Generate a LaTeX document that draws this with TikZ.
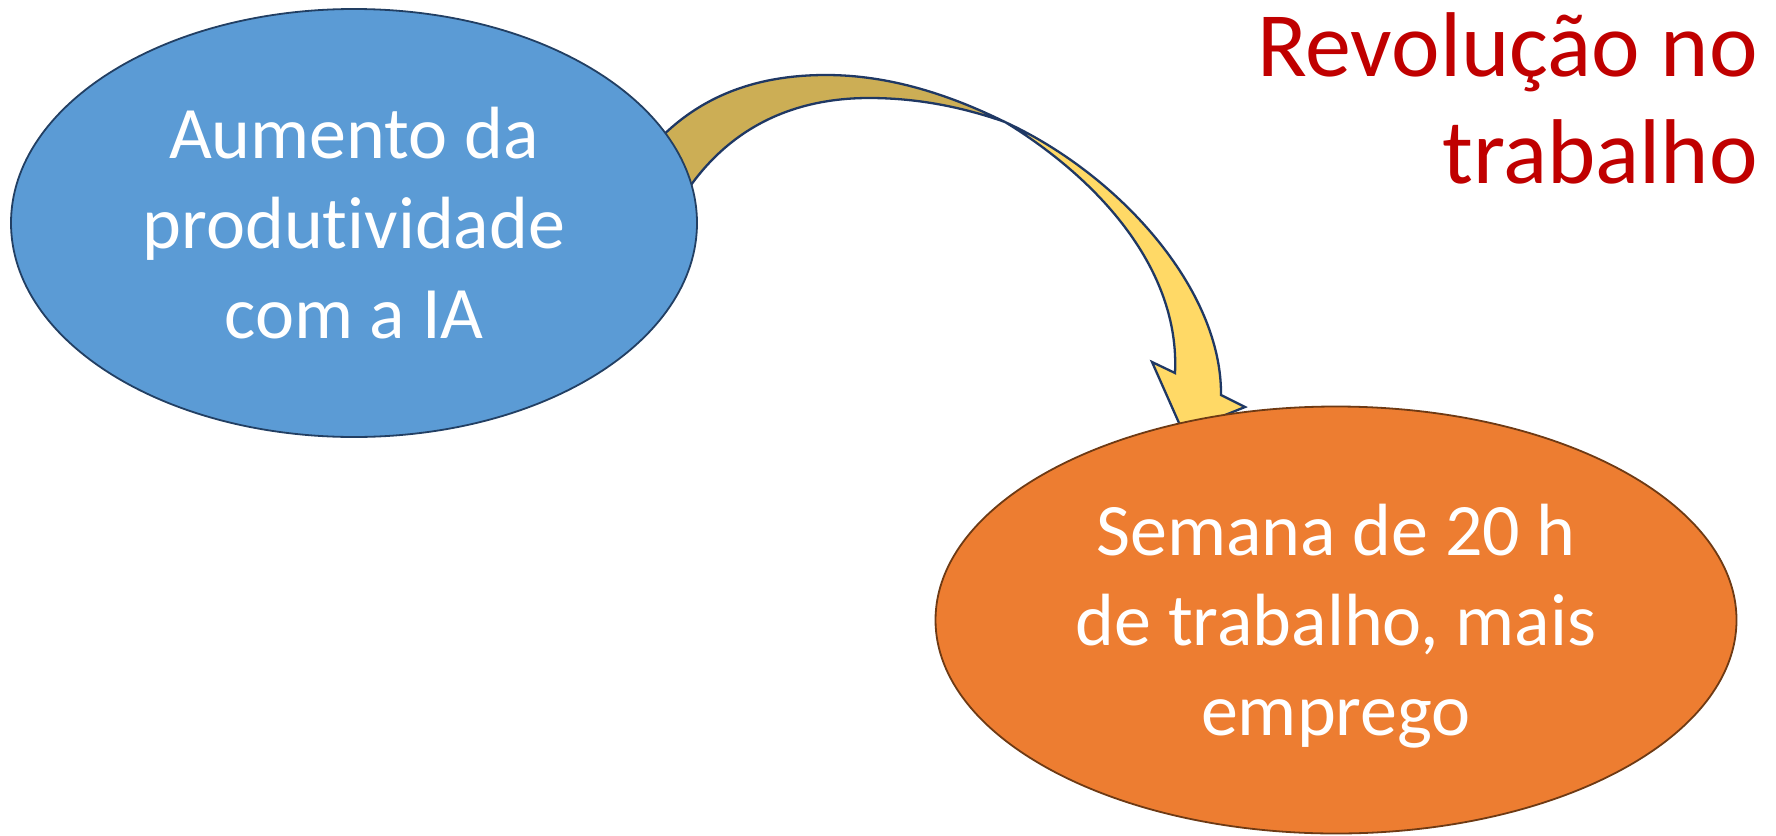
\documentclass[tikz,border=0pt]{standalone}
\usepackage{fontspec}
\setmainfont{Carlito}[Ligatures={NoCommon,NoRare,NoContextual}]
\usetikzlibrary{shapes.geometric}
\definecolor{bluefill}{HTML}{5B9BD5}
\definecolor{blueline}{HTML}{223F63}
\definecolor{orangefill}{HTML}{ED7D31}
\definecolor{orangeline}{HTML}{6E3A14}
\definecolor{arrowback}{HTML}{CCAE55}
\definecolor{arrowfront}{HTML}{FFD966}
\definecolor{arrowline}{HTML}{1F3864}
\definecolor{titlered}{HTML}{C00000}
\tikzset{
  bubble/.style={ellipse, inner sep=0pt, text=white, align=center,
    font=\fontsize{74}{90}\selectfont, line width=1.8pt},
  arrowpart/.style={draw=arrowline, line width=2.3pt, line join=miter},
  titletext/.style={inner sep=0pt, align=right, text=titlered,
    font=\fontsize{92}{107}\selectfont}
}
\begin{document}
\begin{tikzpicture}[x=1pt,y=-1pt]
\useasboundingbox (0,0) rectangle (1776,835);
\fill[white] (0,0) rectangle (1776,835);
% curved arrow key points
\coordinate (cusp) at (1005,122);
\coordinate (bo) at (645,155);
\coordinate (bi) at (675,210);
\coordinate (otop) at (826,75);
\coordinate (itop) at (869,98);
\coordinate (obase) at (1221,395);
\coordinate (rbarb) at (1245,407);
\coordinate (tip) at (1183,432);
\coordinate (lbarb) at (1152,362);
\coordinate (ibase) at (1175,373);
% back arm
\draw[arrowpart, fill=arrowback] (bo) .. controls (690,100) and (750,75) .. (otop)
  .. controls (890,75) and (950,95) .. (cusp)
  .. controls (965,108) and (920,98) .. (itop)
  .. controls (790,98) and (720,130) .. (bi) -- cycle;
% front arm with head
\draw[arrowpart, fill=arrowfront] (cusp) .. controls (1120,175) and (1222,290) .. (obase)
  -- (rbarb) -- (tip) -- (lbarb) -- (ibase)
  .. controls (1180,270) and (1100,180) .. (cusp) -- cycle;
% ellipses
\node[bubble, draw=blueline, fill=bluefill, minimum width=686pt, minimum height=428pt]
  (prod) at (354,223) {Aumento da\\produtividade\\com a IA};
\node[bubble, draw=orangeline, fill=orangefill, minimum width=801pt, minimum height=427pt]
  (semana) at (1336,620) {Semana de 20 h\\de trabalho, mais\\\smash{emprego}};
% title
\node[titletext, anchor=north east] (title) at (1758,12) {Revolução no\\trabalho};
\end{tikzpicture}
\end{document}
